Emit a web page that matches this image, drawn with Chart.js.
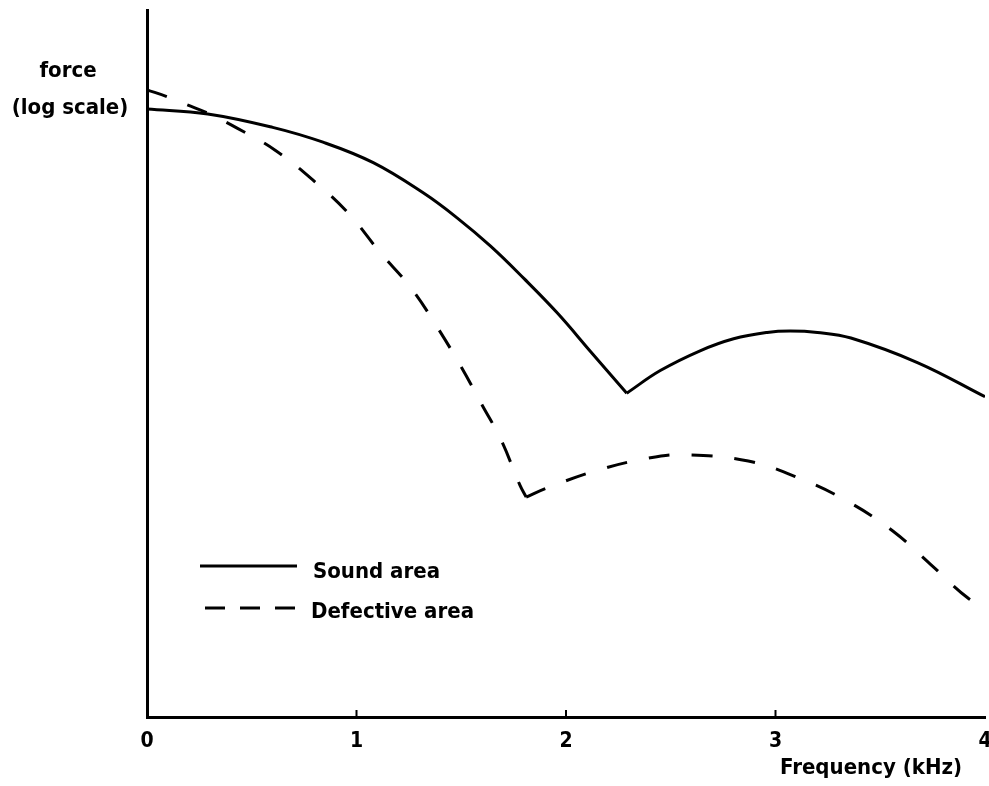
<!DOCTYPE html>
<html>
<head>
<meta charset="utf-8">
<script src="https://cdn.jsdelivr.net/npm/chart.js@4.4.0/dist/chart.umd.min.js"></script>
<style>
  body { margin: 0; background: #fff; }
  #wrap { width: 989px; height: 786px; }
</style>
</head>
<body>
<div id="wrap"><canvas id="myChart" width="989" height="786"></canvas></div>
<script>
"use strict"

// Frekvens (kHz) och kraft (godtycklig log-skala)
const soundFreq  = [0, 0.29, 0.60, 0.84, 1.08, 1.32, 1.48, 1.64, 1.80, 1.96, 2.12, 2.29, 2.45, 2.64, 2.80, 2.96, 3.07, 3.20, 3.36, 3.68, 4.0];
const soundForce = [86.0, 85.3, 83.4, 81.3, 78.4, 74.1, 70.6, 66.6, 62.0, 57.1, 51.6, 45.8, 49.0, 51.8, 53.5, 54.4, 54.6, 54.4, 53.6, 50.1, 45.3];
const soundCusp = 11;

const defectFreq  = [0, 0.10, 0.19, 0.29, 0.43, 0.61, 0.79, 0.96, 1.11, 1.26, 1.38, 1.50, 1.60, 1.69, 1.78, 1.81, 1.91, 2.15, 2.39, 2.56, 2.87, 3.12, 3.35, 3.56, 3.74, 3.92, 4.0];
const defectForce = [88.7, 87.7, 86.6, 85.4, 83.3, 80.2, 76.0, 71.3, 65.8, 60.7, 55.4, 49.5, 44.1, 39.2, 32.8, 31.1, 32.4, 34.9, 36.6, 37.1, 36.2, 33.7, 30.4, 26.3, 21.6, 16.8, 15.7];
const defectCusp = 15;

const xTicks = [0, 1, 2, 3, 4];
const legendLabels = ["Sound area", "Defective area"];

const FONT = "'DejaVu Sans Condensed', 'DejaVu Sans', sans-serif";

function points(xs, ys, from, to) {
  let out = [];
  for (let i = from; i <= to; i++) out.push({ x: xs[i], y: ys[i] });
  return out;
}

function line(data, dashed) {
  return {
    data: data,
    borderColor: "#000",
    borderWidth: 3,
    borderDash: dashed ? [21, 22] : [],
    pointRadius: 0,
    fill: false,
    tension: 0.4
  };
}

// ritar text, små skalstreck och förklaring
const extras = {
  id: "extras",
  afterDraw(chart) {
    const ctx = chart.ctx;
    const xs = chart.scales.x;
    const bottom = chart.chartArea.bottom;
    ctx.save();
    ctx.strokeStyle = "#000";
    ctx.lineWidth = 2;
    [1, 2, 3].forEach(v => {
      const px = xs.getPixelForValue(v);
      ctx.beginPath();
      ctx.moveTo(px, bottom);
      ctx.lineTo(px, bottom - 7);
      ctx.stroke();
    });

    ctx.fillStyle = "#000";
    ctx.font = "bold 22px " + FONT;
    ctx.textBaseline = "middle";
    ctx.textAlign = "center";
    ctx.fillText("force", 68, 71);
    ctx.fillText("(log scale)", 70, 108);
    ctx.textAlign = "right";
    ctx.fillText("Frequency (kHz)", 962, 768);

    // förklaring
    ctx.textAlign = "left";
    ctx.lineWidth = 3;
    ctx.beginPath();
    ctx.moveTo(200, 566);
    ctx.lineTo(297, 566);
    ctx.stroke();
    ctx.setLineDash([20, 15]);
    ctx.beginPath();
    ctx.moveTo(205, 608);
    ctx.lineTo(297, 608);
    ctx.stroke();
    ctx.setLineDash([]);
    ctx.fillText(legendLabels[0], 313, 572);
    ctx.fillText(legendLabels[1], 311, 612);
    ctx.restore();
  }
};

new Chart(document.getElementById("myChart"), {
  type: "line",
  data: {
    datasets: [
      line(points(soundFreq, soundForce, 0, soundCusp), false),
      line(points(soundFreq, soundForce, soundCusp, soundFreq.length - 1), false),
      line(points(defectFreq, defectForce, 0, defectCusp), true),
      line(points(defectFreq, defectForce, defectCusp, defectFreq.length - 1), true)
    ]
  },
  options: {
    responsive: false,
    animation: false,
    layout: { padding: { left: 147, top: 10, right: 4, bottom: 0 } },
    plugins: {
      legend: { display: false },
      tooltip: { enabled: false }
    },
    scales: {
      x: {
        type: "linear",
        min: 0,
        max: 4,
        afterBuildTicks: s => { s.ticks = xTicks.map(v => ({ value: v })); },
        afterFit: s => { s.height = 69; s.paddingRight = 0; s.paddingLeft = 0; },
        grid: { display: false },
        border: { display: true, color: "#000", width: 3 },
        ticks: {
          color: "#000",
          padding: 4,
          font: { family: FONT, size: 21, weight: "bold" }
        }
      },
      y: {
        min: 0,
        max: 100,
        afterFit: s => { s.width = 0; },
        grid: { display: false },
        border: { display: true, color: "#000", width: 3 },
        ticks: { display: false }
      }
    }
  },
  plugins: [extras]
});
</script>
</body>
</html>
